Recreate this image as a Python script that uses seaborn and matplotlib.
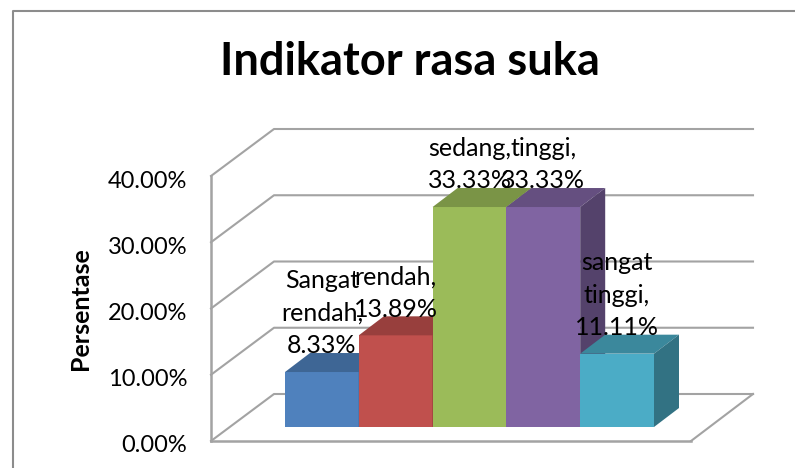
import numpy as np
import pandas as pd
import seaborn as sns
import matplotlib.pyplot as plt
from matplotlib.lines import Line2D
from matplotlib.patches import Polygon
from matplotlib.colors import to_rgb
from matplotlib.transforms import ScaledTranslation

categories = ['Sangat rendah', 'rendah', 'sedang', 'tinggi', 'sangat tinggi']
values = [8.33, 13.89, 33.33, 33.33, 11.11]
colors = ['#4F81BD', '#C0504D', '#9BBB59', '#8064A2', '#4BACC6']
y_ticks = [0, 10, 20, 30, 40]

W, H = 795, 468
GRID = '#a3a3a3'
plt.rcParams['font.family'] = ['Lato', 'DejaVu Sans']


def px_axes(fig, left, right, bottom, top):
    # position an axes from pixel edges (y counted from the top of the image)
    return fig.add_axes([left / W, 1 - bottom / H, (right - left) / W, (bottom - top) / H])


def shade(c, f):
    return tuple(v * f for v in to_rgb(c))


fig = plt.figure(figsize=(W / 100, H / 100), dpi=100)

# outer chart border, only top and left are inside the crop
fig.add_artist(Line2D([13 / W, 13 / W, 1], [0, 1 - 10.5 / H, 1 - 10.5 / H], color='#8c8c8c', lw=1.5))

# walls and floor
wall = px_axes(fig, 211, 691, 441, 176)
wall.set_xlim(0, 1)
wall.set_ylim(0, 40)
wall.patch.set_alpha(0)
depth_x, depth_y = 63 / 480, 47 / 6.625
end_x = (753 - 211) / 480
for t in y_ticks:
    wall.plot([0, depth_x, end_x], [t, t + depth_y, t + depth_y], color=GRID, lw=1.5, clip_on=False, zorder=1)
wall.plot([1, end_x], [0, depth_y], color=GRID, lw=1.5, clip_on=False, zorder=1)
sns.despine(ax=wall, top=True, right=True)
for s in ['left', 'bottom']:
    wall.spines[s].set_color(GRID)
    wall.spines[s].set_linewidth(1.8)
wall.set_xticks([])
wall.set_yticks(y_ticks)
wall.set_yticklabels([f'{t:.2f}%' for t in y_ticks], fontsize=17, color='black')
wall.tick_params(axis='y', length=0, pad=17)
shift = ScaledTranslation(0, -3 / 100, fig.dpi_scale_trans)
for lab in wall.get_yticklabels():
    lab.set_transform(lab.get_transform() + shift)
wall.set_ylabel('Persentase', fontsize=18, fontweight='bold', labelpad=11, y=0.5)

# bars, on their own axes sitting a bit in from the walls
df = pd.DataFrame({'kategori': categories, 'nilai': values})
ax = px_axes(fig, 285, 654, 427, 427 - 40 * 6.6)
ax.patch.set_alpha(0)
sns.barplot(data=df, x='kategori', y='nilai', hue='kategori', palette=colors, width=1, legend=False, ax=ax, saturation=1)
ax.set_xlim(-0.5, 4.5)
ax.set_ylim(0, 40)
ax.axis('off')

dx = 25 / (369 / 5)
dy = 19 / 6.6
for i, (p, c) in enumerate(zip(ax.patches, colors)):
    x0, x1, h = p.get_x(), p.get_x() + p.get_width(), p.get_height()
    p.set_zorder(3 + i)
    p.set_edgecolor('none')
    ax.add_patch(Polygon([(x0, h), (x1, h), (x1 + dx, h + dy), (x0 + dx, h + dy)], fc=shade(c, 0.79), ec='none', zorder=3 + i, clip_on=False))
    ax.add_patch(Polygon([(x1, 0), (x1, h), (x1 + dx, h + dy), (x1 + dx, dy)], fc=shade(c, 0.66), ec='none', zorder=3 + i, clip_on=False))
    label = categories[i].replace(' ', '\n') + ',\n' + f'{values[i]:.2f}%'
    ax.annotate(label, (i, h), xytext=(0, 10.5), textcoords='offset points', ha='center', va='bottom',
                fontsize=18, linespacing=1.5, zorder=20, annotation_clip=False)

fig.text(410 / W, 1 - 62 / H, 'Indikator rasa suka', ha='center', va='center', fontsize=32.5, fontweight='bold')

fig.savefig('out.png', dpi=100)
